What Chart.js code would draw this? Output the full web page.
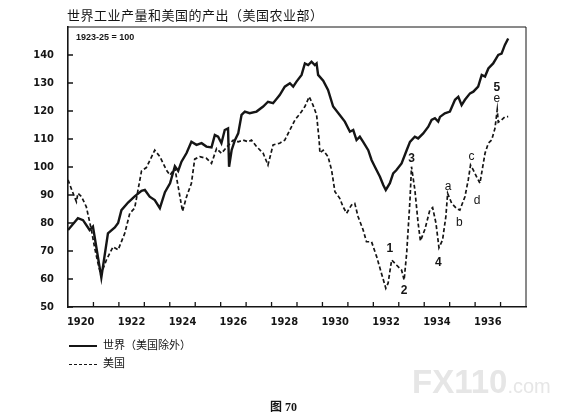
<!DOCTYPE html>
<html>
<head>
<meta charset="utf-8">
<script src="https://cdn.jsdelivr.net/npm/chart.js@4.4.1/dist/chart.umd.min.js"></script>
<style>
  html, body { margin: 0; padding: 0; background: #fff; }
  #wrap { position: relative; width: 585px; height: 419px; overflow: hidden; }
  #wrap canvas { position: absolute; left: 0; top: 0; }
  .txt { position: absolute; color: #151515; white-space: nowrap; font-family: "Noto Sans CJK SC", "Noto Sans", sans-serif; }
  #title { left: 67px; top: 5px; font-size: 13px; line-height: 19px; letter-spacing: 0.5px; }
  #note { left: 76px; top: 32px; font: bold 9px "Liberation Sans", Arial, sans-serif; line-height: 11px; }
  .leg { left: 69px; font-size: 11px; line-height: 14px; }
  .leg i { display: inline-block; width: 28px; vertical-align: middle; margin-right: 6px; }
  #leg1 { top: 337px; }
  #leg1 i { border-top: 2.2px solid #151515; }
  #leg2 { top: 355px; }
  #leg2 i { border-top: 1.4px dashed #151515; }
  #caption { left: 270px; top: 399px; font: bold 12px "Liberation Serif", "Noto Sans CJK SC", serif; line-height: 16px; }
  #mark { left: 412px; top: 362px; color: #e6e6e6; font: bold 33px "Liberation Sans", Arial, sans-serif; line-height: 40px; }
  #mark span { font-size: 20px; font-weight: normal; }
</style>
</head>
<body>
<div id="wrap">
  <canvas id="chart"></canvas>
  <div class="txt" id="title">世界工业产量和美国的产出（美国农业部）</div>
  <div class="txt" id="note">1923-25 = 100</div>
  <div class="txt leg" id="leg1"><i></i>世界（美国除外）</div>
  <div class="txt leg" id="leg2"><i></i>美国</div>
  <div class="txt" id="mark">FX110<span>.com</span></div>
  <div class="txt" id="caption">图 70</div>
</div>
<script>
// index 1923-25 = 100
var worldDates = [
  1920.00,1920.39,1920.59,1920.85,1920.98,1921.31,1921.57,1921.84,1921.97,1922.10,
  1922.36,1922.62,1922.89,1923.02,1923.21,1923.41,1923.61,1923.81,1924.01,1924.20,
  1924.33,1924.46,1924.66,1924.85,1925.05,1925.25,1925.44,1925.64,1925.77,1925.90,
  1926.03,1926.16,1926.29,1926.33,1926.43,1926.56,1926.69,1926.82,1926.95,1927.14,
  1927.41,1927.67,1927.86,1928.06,1928.32,1928.52,1928.72,1928.85,1928.98,1929.18,
  1929.31,1929.44,1929.57,1929.70,1929.77,1929.83,1930.03,1930.22,1930.42,1930.68,
  1930.88,1931.08,1931.21,1931.34,1931.47,1931.60,1931.80,1931.93,1932.06,1932.26,
  1932.39,1932.49,1932.65,1932.78,1932.91,1933.11,1933.31,1933.44,1933.63,1933.76,
  1933.96,1934.16,1934.29,1934.42,1934.55,1934.62,1934.81,1935.01,1935.21,1935.34,
  1935.47,1935.60,1935.80,1935.93,1936.12,1936.26,1936.39,1936.52,1936.71,1936.91,
  1937.04,1937.17,1937.30
];
var worldIndex = [
  77.5,81.7,81.0,77.5,78.7,60.5,76.3,78.4,80.0,84.6,
  87.3,89.5,91.5,91.8,89.4,88.2,85.3,91.0,94.2,100.3,
  98.6,101.9,105.0,109.0,107.9,108.5,107.3,107.0,111.4,110.8,
  108.5,113.2,113.8,100.1,106.0,109.6,112.0,118.6,119.8,119.2,
  119.8,121.6,123.3,122.8,125.7,128.7,129.9,128.7,130.5,132.9,
  137.0,136.4,137.6,136.4,137.0,132.9,130.8,127.5,121.6,118.6,
  116.2,112.6,113.2,109.6,110.8,109.0,106.0,102.5,100.1,96.5,
  93.6,91.8,94.2,97.7,98.9,101.3,106.0,109.0,110.8,110.2,
  112.0,114.4,116.8,117.4,116.2,117.9,119.2,119.8,124.0,125.1,
  122.1,124.0,126.3,126.9,128.7,132.9,132.3,135.2,137.0,140.0,
  140.5,143.6,145.9
];
var usDates = [
  1920.00,1920.20,1920.33,1920.39,1920.53,1920.72,1920.92,1921.05,1921.18,1921.29,
  1921.51,1921.77,1921.97,1922.23,1922.43,1922.62,1922.89,1923.08,1923.41,1923.61,
  1923.87,1924.01,1924.20,1924.33,1924.50,1924.66,1924.85,1924.98,1925.18,1925.44,
  1925.64,1925.84,1926.03,1926.23,1926.49,1926.69,1926.88,1927.08,1927.21,1927.41,
  1927.67,1927.86,1928.06,1928.32,1928.52,1928.72,1928.92,1929.18,1929.31,1929.48,
  1929.63,1929.77,1929.87,1929.90,1930.03,1930.22,1930.36,1930.49,1930.68,1930.81,
  1930.95,1931.14,1931.27,1931.40,1931.60,1931.73,1931.93,1932.13,1932.32,1932.49,
  1932.58,1932.72,1932.91,1933.11,1933.21,1933.31,1933.44,1933.50,1933.63,1933.76,
  1933.85,1934.03,1934.22,1934.33,1934.46,1934.58,1934.72,1934.85,1934.92,1935.08,
  1935.27,1935.40,1935.60,1935.73,1935.82,1935.93,1936.06,1936.19,1936.30,1936.39,
  1936.52,1936.65,1936.78,1936.87,1936.91,1937.04,1937.17,1937.30
];
var usIndex = [
  95.4,90.6,87.6,90.6,89.4,85.8,77.5,71.0,65.6,61.5,
  66.8,71.5,70.4,76.3,83.5,85.3,98.6,99.8,106.0,103.7,
  98.9,97.1,99.5,93.0,84.2,89.4,94.2,102.8,103.7,103.1,
  101.3,106.6,104.9,107.0,109.6,109.0,109.6,109.0,109.6,107.3,
  104.9,100.7,107.9,108.5,109.6,113.2,116.8,119.8,121.6,125.1,
  122.1,118.6,109.6,105.0,106.0,103.7,98.9,91.2,88.8,85.8,
  83.5,86.4,87.0,82.3,77.5,73.3,73.3,68.0,62.0,56.7,
  58.5,66.8,65.0,63.2,59.6,69.2,88.2,100.1,92.0,80.0,
  73.6,77.8,84.6,85.5,80.0,71.2,73.9,82.3,90.6,87.0,
  85.2,84.6,89.4,95.4,100.7,98.9,96.5,94.2,100.1,104.9,
  108.5,109.6,113.8,120.5,116.0,116.8,117.9,118.0
];
var yearLabels = [1920, 1922, 1924, 1926, 1928, 1930, 1932, 1934, 1936];
var yTicks = [50, 60, 70, 80, 90, 100, 110, 120, 130, 140];

// wave marks written next to the US curve
var markText = ['1', '2', '3', '4', 'a', 'b', 'c', 'd', '5', 'e'];
var markDate = [1932.65, 1933.21, 1933.50, 1934.55, 1934.94, 1935.38, 1935.86, 1936.08, 1936.85, 1936.85];
var markValue = [71, 56, 103, 66, 93, 80, 103.7, 88, 128.5, 124.5];

var ink = '#151515';
var axisFont = { family: '"Liberation Sans Narrow", "DejaVu Sans Condensed", "Liberation Sans", sans-serif', size: 11, weight: 'bold' };

var toPoints = function(xs, ys){
  var pts = [];
  for (var i = 0; i < xs.length; i++){
    pts.push({ x: xs[i], y: ys[i] });
  }
  return pts;
};

// inward tick marks, the top/right frame and the wave marks
var extras = {
  id: 'extras',
  afterDraw: function(chart){
    var ctx = chart.ctx;
    var a = chart.chartArea;
    var xs = chart.scales.x, ys = chart.scales.y;
    ctx.save();
    ctx.strokeStyle = ink;
    ctx.lineWidth = 1;
    ctx.beginPath();
    ctx.moveTo(a.left, a.top);
    ctx.lineTo(a.right, a.top);
    ctx.lineTo(a.right, a.bottom);
    ctx.stroke();

    ctx.lineWidth = 1.3;
    ctx.beginPath();
    for (var yr = 1921; yr < 1938; yr++){
      var px = xs.getPixelForValue(yr);
      ctx.moveTo(px, a.bottom);
      ctx.lineTo(px, a.bottom - 5);
    }
    yTicks.forEach(function(v){
      var py = ys.getPixelForValue(v);
      ctx.moveTo(a.left, py);
      ctx.lineTo(a.left + 5, py);
    });
    ctx.stroke();

    ctx.fillStyle = ink;
    ctx.textAlign = 'center';
    ctx.textBaseline = 'middle';
    for (var i = 0; i < markText.length; i++){
      var isDigit = /[0-9]/.test(markText[i]);
      ctx.font = (isDigit ? 'bold 12px ' : '12px ') + '"Liberation Sans", Arial, sans-serif';
      ctx.fillText(markText[i], xs.getPixelForValue(markDate[i]), ys.getPixelForValue(markValue[i]));
    }
    ctx.restore();
  }
};

var ctx = document.getElementById('chart');
var chart = new Chart(ctx, {
  type: 'line',
  data: {
    datasets: [{
      label: '世界（美国除外）',
      data: toPoints(worldDates, worldIndex),
      borderColor: ink,
      borderWidth: 2.4,
      pointRadius: 0,
      tension: 0
    }, {
      label: '美国',
      data: toPoints(usDates, usIndex),
      borderColor: ink,
      borderWidth: 1.7,
      borderDash: [4, 2.5],
      pointRadius: 0,
      tension: 0
    }]
  },
  options: {
    responsive: true,
    maintainAspectRatio: false,
    animation: false,
    events: [],
    layout: { padding: { left: 0, right: 59, top: 27, bottom: 0 } },
    plugins: {
      legend: { display: false },
      title: { display: false },
      tooltip: { enabled: false }
    },
    scales: {
      x: {
        type: 'linear',
        min: 1920,
        max: 1938,
        afterBuildTicks: function(scale){
          scale.ticks = yearLabels.map(function(y){ return { value: y + 0.5 }; });
        },
        afterFit: function(scale){ scale.height = 112; },
        ticks: {
          autoSkip: false,
          maxRotation: 0,
          padding: 1,
          color: ink,
          font: axisFont,
          callback: function(v){ return String(Math.floor(v)); }
        },
        grid: { display: false },
        border: { display: true, color: ink, width: 1.6 }
      },
      y: {
        min: 50,
        max: 150,
        afterBuildTicks: function(scale){
          scale.ticks = yTicks.map(function(v){ return { value: v }; });
        },
        afterFit: function(scale){ scale.width = 68; },
        ticks: {
          padding: 6,
          color: ink,
          font: axisFont
        },
        grid: { display: false },
        border: { display: true, color: ink, width: 1.6 }
      }
    }
  },
  plugins: [extras]
});
</script>
</body>
</html>
